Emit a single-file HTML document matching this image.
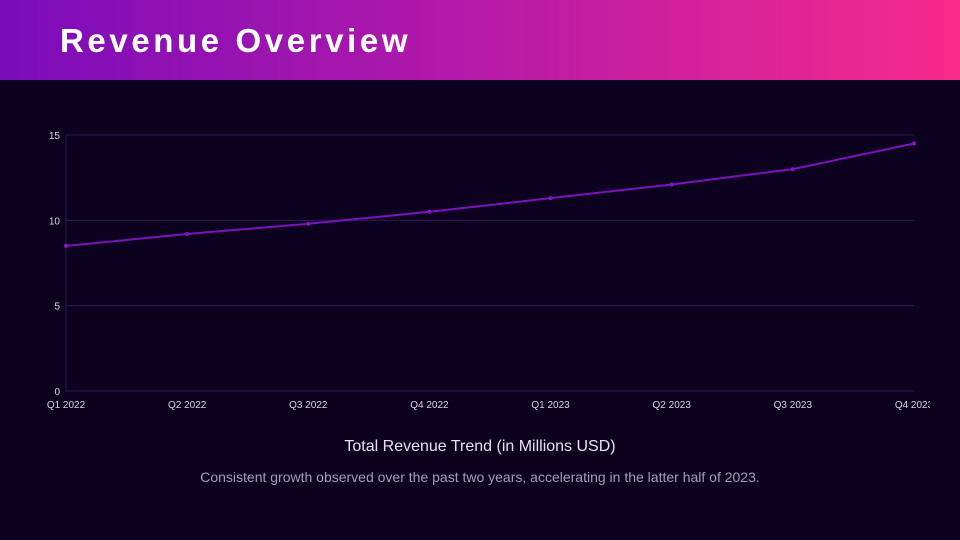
<!DOCTYPE html>
<html><head><meta charset="utf-8"><style>
html,body{margin:0;padding:0;width:960px;height:540px;overflow:hidden;background:#0c0220;font-family:"Liberation Sans",sans-serif;}
#hdr{position:absolute;left:0;top:0;width:960px;height:80px;background:linear-gradient(90deg,#7a0cba 0%,#b61aa8 50%,#f72a8a 100%);}
#hdr h1{margin:0;position:absolute;left:60px;top:22px;font-size:33px;color:#fff;font-weight:bold;letter-spacing:3.6px;}
#cap{position:absolute;left:0;width:960px;top:438px;text-align:center;color:#e6e2f0;font-size:16px;}
#sub{position:absolute;left:0;width:960px;top:469px;text-align:center;color:#a49cb8;font-size:14px;}
</style></head><body>
<div id="hdr"><h1>Revenue Overview</h1></div>
<svg id="chart" width="960" height="540" style="position:absolute;left:0;top:0"></svg>
<div id="cap">Total Revenue Trend (in Millions USD)</div>
<div id="sub">Consistent growth observed over the past two years, accelerating in the latter half of 2023.</div>
<script>
const categories=["Q1 2022","Q2 2022","Q3 2022","Q4 2022","Q1 2023","Q2 2023","Q3 2023","Q4 2023"];
const revenue=[8.5,9.2,9.8,10.5,11.3,12.1,13.0,14.5];
const yTicks=[0,5,10,15];
const NS="http://www.w3.org/2000/svg";
const svg=document.getElementById('chart');
const x0=66,x1=914,y0=391,y1=135,yMax=15;
const xs=i=>x0+i*(x1-x0)/(categories.length-1);
const ys=v=>y0-v/yMax*(y0-y1);
function mk(t,a){const e=document.createElementNS(NS,t);for(const k in a)e.setAttribute(k,a[k]);svg.appendChild(e);return e;}
const clip=mk('clipPath',{id:'cl'});const cr=document.createElementNS(NS,'rect');cr.setAttribute('x',0);cr.setAttribute('y',0);cr.setAttribute('width',930);cr.setAttribute('height',540);clip.appendChild(cr);
yTicks.forEach(v=>{
 const g=mk('line',{x1:x0,x2:x1,y1:ys(v),y2:ys(v),stroke:'#2d1758','stroke-width':1});
 
 
 const t=mk('text',{x:60,y:ys(v)+4,'text-anchor':'end',fill:'#d8d4e4','font-size':10});
 t.textContent=v;
 
 
});
const ax=mk('line',{x1:x0,x2:x0,y1:y1,y2:y0,stroke:'#2d1758'});


categories.forEach((c,i)=>{
 const t=mk('text',{x:xs(i),y:408,'text-anchor':'middle',fill:'#d8d4e4','font-size':10,'clip-path':'url(#cl)'});
 t.textContent=c;
 
 
});
const p=mk('polyline',{points:revenue.map((v,i)=>xs(i)+','+ys(v)).join(' '),fill:'none',stroke:'#7f10c0','stroke-width':2});


revenue.forEach((v,i)=>{
 const c=mk('circle',{cx:xs(i),cy:ys(v),r:2,fill:'#8a14c8'});
 
 
});
</script>
</body></html>
